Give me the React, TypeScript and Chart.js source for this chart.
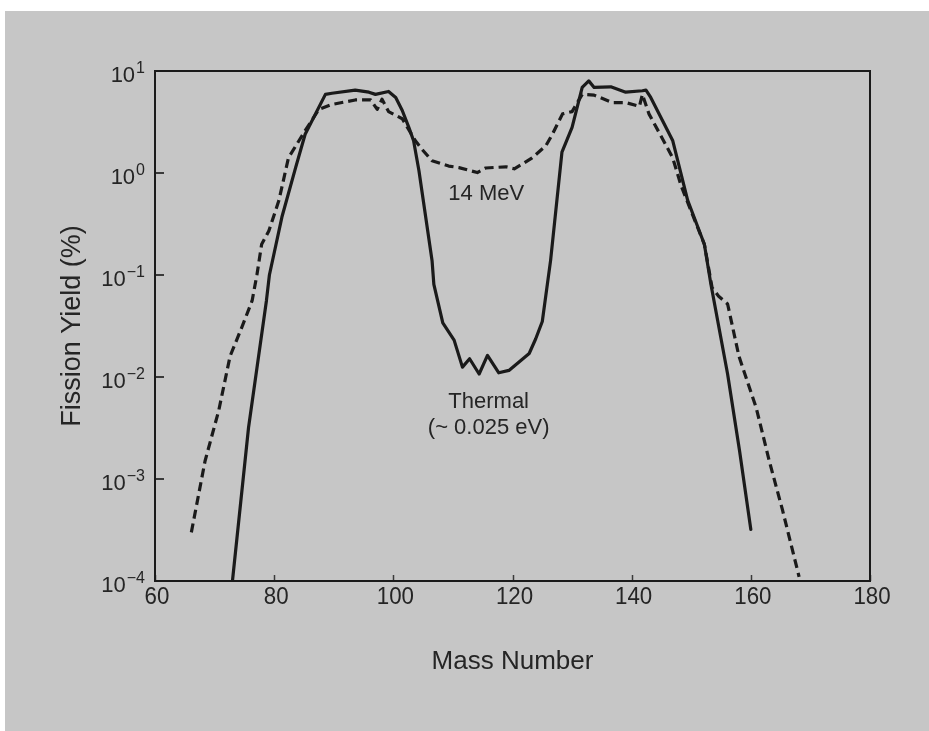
import React, { useEffect, useRef } from "react";
import { Chart, registerables } from "chart.js";

Chart.register(...registerables);

// ---- data ----
const thermalMass = [73, 75.7, 78.7, 79.2, 81.3, 83.6, 85.2, 88.6, 89.7, 93.6, 95.9, 97.0, 99.2, 100.4, 101.5, 102.6, 103.4, 104.3, 106.5, 106.8, 108.3, 110.2, 111.6, 112.8, 114.4, 115.8, 117.7, 119.4, 122.8, 123.9, 125.0, 126.4, 128.3, 130.0, 131.7, 132.8, 133.7, 136.5, 139.0, 141.8, 142.4, 143.2, 146.9, 149.4, 152.2, 153.3, 156.1, 158.1, 160.0];
const thermalYield = [1e-4, 0.0032, 0.056, 0.1, 0.37, 1.13, 2.4, 5.9, 6.05, 6.5, 6.2, 5.9, 6.3, 5.5, 4.1, 2.8, 2.07, 1.05, 0.138, 0.081, 0.034, 0.023, 0.0125, 0.0151, 0.0107, 0.0163, 0.011, 0.0116, 0.017, 0.0237, 0.035, 0.14, 1.6, 2.8, 6.9, 8.0, 6.9, 7.0, 6.2, 6.4, 6.5, 5.5, 2.07, 0.54, 0.2, 0.081, 0.0107, 0.0019, 0.00032];

const mev14Mass = [66.1, 68.4, 70.7, 72.6, 74.6, 76.3, 77.1, 77.9, 79.1, 80.8, 82.4, 85.2, 87.5, 89.7, 93.6, 96.2, 97.3, 98.1, 99.2, 101.5, 103.7, 104.8, 106.5, 109.3, 111.0, 114.1, 115.5, 118.9, 120.3, 121.6, 123.3, 125.6, 126.7, 128.4, 130.0, 131.7, 133.7, 136.8, 139.0, 141.3, 141.8, 142.9, 145.7, 146.9, 148.3, 150.0, 152.2, 153.5, 154.6, 156.1, 158.0, 160.9, 163.1, 165.3, 168.1];
const mev14Yield = [0.0003, 0.0015, 0.0047, 0.016, 0.031, 0.056, 0.1, 0.2, 0.27, 0.54, 1.41, 2.6, 4.2, 4.7, 5.2, 5.2, 4.2, 5.3, 4.0, 3.4, 2.07, 1.71, 1.32, 1.17, 1.13, 1.01, 1.12, 1.15, 1.1, 1.22, 1.41, 1.85, 2.4, 3.8, 4.0, 5.9, 5.8, 4.9, 4.9, 4.5, 5.9, 3.8, 1.9, 1.4, 0.75, 0.42, 0.2, 0.075, 0.062, 0.052, 0.016, 0.005, 0.0015, 0.0005, 0.00011];

const xTicks = [60, 80, 100, 120, 140, 160, 180];
const yTickExponents = [1, 0, -1, -2, -3, -4];

const curveLabels = [
  { text: "14 MeV", mass: 115.6, yield: 0.63 },
  { text: "Thermal", mass: 116.0, yield: 0.0057 },
  { text: "(~ 0.025 eV)", mass: 116.0, yield: 0.0032 },
];

const xTitle = "Mass Number";
const yTitle = "Fission Yield (%)";

// ---- styles ----
const BG = "#c6c6c6";
const INK = "#1a1a1a";
const TEXT = "#252525";
const SANS = "'Liberation Sans', Arial, Helvetica, sans-serif";

const decorPlugin = {
  id: "decor",
  beforeDraw(chart: any) {
    const { ctx, width, height } = chart;
    ctx.save();
    ctx.fillStyle = "#ffffff";
    ctx.fillRect(0, 0, width, height);
    ctx.fillStyle = BG;
    ctx.fillRect(5, 11, width - 5, height - 11);
    ctx.restore();
  },
  afterDraw(chart: any) {
    const { ctx, chartArea: a, scales } = chart;
    const xs = scales.x;
    const ys = scales.y;
    ctx.save();

    // inner tick marks
    ctx.strokeStyle = "#3a3a3a";
    ctx.lineWidth = 2;
    for (const e of yTickExponents) {
      const py = Math.round(ys.getPixelForValue(Math.pow(10, e)));
      ctx.beginPath();
      ctx.moveTo(a.left, py);
      ctx.lineTo(a.left + 9, py);
      ctx.stroke();
    }
    ctx.lineWidth = 1.5;
    for (const t of xTicks) {
      const px = Math.round(xs.getPixelForValue(t)) + 0.5;
      ctx.beginPath();
      ctx.moveTo(px, a.bottom);
      ctx.lineTo(px, a.bottom - 6);
      ctx.stroke();
    }

    // frame
    ctx.strokeStyle = INK;
    ctx.lineWidth = 2;
    ctx.strokeRect(a.left, a.top, a.right - a.left, a.bottom - a.top);

    // x tick labels
    ctx.fillStyle = TEXT;
    ctx.font = `24px ${SANS}`;
    ctx.textAlign = "center";
    ctx.textBaseline = "alphabetic";
    for (const t of xTicks) {
      const px = xs.getPixelForValue(t);
      ctx.save();
      ctx.translate(px + 2, a.bottom + 23);
      ctx.scale(0.93, 1);
      ctx.fillText(String(t), 0, 0);
      ctx.restore();
    }

    // y tick labels 10^n
    ctx.textAlign = "right";
    ctx.textBaseline = "alphabetic";
    const rightEdge = a.left - 10;
    for (const e of yTickExponents) {
      const py = ys.getPixelForValue(Math.pow(10, e));
      const expText = e < 0 ? "\u2212" + Math.abs(e) : String(e);
      ctx.font = `16px ${SANS}`;
      const ew = ctx.measureText(expText).width;
      ctx.fillText(expText, rightEdge, py + 2);
      ctx.font = `22px ${SANS}`;
      ctx.fillText("10", rightEdge - ew - 1, py + 11);
    }

    // curve labels
    ctx.font = `22px ${SANS}`;
    ctx.textAlign = "center";
    ctx.textBaseline = "middle";
    for (const l of curveLabels) {
      ctx.fillText(l.text, xs.getPixelForValue(l.mass), ys.getPixelForValue(l.yield));
    }
    ctx.restore();
  },
};

export default function App() {
  const ref = useRef<HTMLCanvasElement>(null);
  useEffect(() => {
    document.body.style.margin = "0";
    const canvas = ref.current!;
    const chart = new Chart(canvas, {
      type: "line",
      data: {
        datasets: [
          {
            label: "Thermal (~0.025 eV)",
            data: thermalMass.map((m, i) => ({ x: m, y: thermalYield[i] })),
            borderColor: INK,
            borderWidth: 3.2,
            pointRadius: 0,
            tension: 0,
            fill: false,
            borderJoinStyle: "round",
            borderCapStyle: "round",
          },
          {
            label: "14 MeV",
            data: mev14Mass.map((m, i) => ({ x: m, y: mev14Yield[i] })),
            borderColor: INK,
            borderWidth: 3.2,
            borderDash: [9, 5],
            pointRadius: 0,
            tension: 0,
            fill: false,
            borderJoinStyle: "round",
          },
        ],
      },
      options: {
        animation: false,
        responsive: false,
        devicePixelRatio: 1,
        layout: { padding: { top: 71, right: 59, left: 0, bottom: 0 } },
        plugins: {
          legend: { display: false },
          tooltip: { enabled: false },
        },
        scales: {
          x: {
            type: "linear",
            min: 60,
            max: 180,
            afterBuildTicks: (s: any) => {
              s.ticks = xTicks.map((v) => ({ value: v }));
            },
            afterFit: (s: any) => {
              s.height = 150;
            },
            grid: { display: false, drawTicks: false },
            border: { display: false },
            ticks: { display: false },
            title: {
              display: true,
              text: xTitle,
              color: TEXT,
              font: { family: SANS, size: 26 },
              padding: { top: 0, bottom: 54 },
            },
          },
          y: {
            type: "logarithmic",
            min: 1e-4,
            max: 10,
            afterFit: (s: any) => {
              s.width = 155;
            },
            grid: { display: false, drawTicks: false },
            border: { display: false },
            ticks: { display: false },
            title: {
              display: true,
              text: yTitle,
              color: TEXT,
              font: { family: SANS, size: 27 },
              padding: { top: 56, bottom: 0 },
            },
          },
        },
      },
      plugins: [decorPlugin],
    } as any);
    return () => chart.destroy();
  }, []);
  return (
    <canvas
      ref={ref}
      width={929}
      height={731}
      style={{ display: "block", width: 929, height: 731 }}
    />
  );
}
